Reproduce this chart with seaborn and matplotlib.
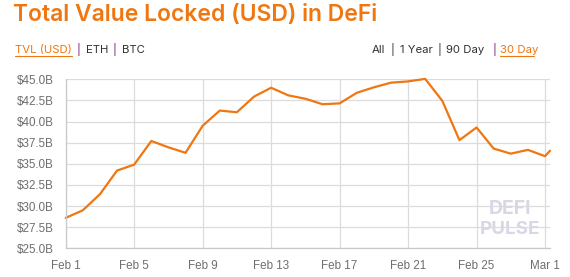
import matplotlib
matplotlib.use("Agg")
import matplotlib.pyplot as plt
import seaborn as sns
import pandas as pd

# ---- data ----
dates = list(pd.date_range("2021-02-01", "2021-03-01", freq="D")) + [pd.Timestamp("2021-03-01 07:00")]
tvl_billion = [28.6, 29.5, 31.4, 34.2, 34.9, 37.7, 36.95, 36.3, 39.5, 41.3,
               41.1, 42.95, 44.0, 43.1, 42.7, 42.05, 42.15, 43.4, 44.05, 44.6,
               44.75, 45.05, 42.45, 37.8, 39.3, 36.8, 36.2, 36.65, 35.9, 36.55]
ytick_vals = [25.0, 27.5, 30.0, 32.5, 35.0, 37.5, 40.0, 42.5, 45.0]
xtick_labels = ["Feb 1", "Feb 5", "Feb 9", "Feb 13", "Feb 17", "Feb 21", "Feb 25", "Mar 1"]
xtick_dates = pd.to_datetime(["2021-02-01", "2021-02-05", "2021-02-09", "2021-02-13",
                              "2021-02-17", "2021-02-21", "2021-02-25", "2021-03-01"])

df = pd.DataFrame({"date": dates, "tvl": tvl_billion})

sns.set_style("white")
plt.rcParams["font.family"] = ["Liberation Sans", "DejaVu Sans"]

ORANGE = "#EF7711"
GRID = "#DCDCDC"
TICKC = "#6E6E6E"
PURPLE = "#7B1F7A"

fig = plt.figure(figsize=(5.70, 2.77), dpi=100)
ax = fig.add_axes([65.7 / 570, 1 - 248.3 / 277, (550 - 65.7) / 570, (248.3 - 79.3) / 277])

sns.lineplot(data=df, x="date", y="tvl", ax=ax, color=ORANGE, linewidth=1.6, clip_on=False)

ax.set_ylim(25, 45)
ax.set_xlim(pd.Timestamp("2021-02-01"), pd.Timestamp("2021-02-01") + pd.Timedelta(days=28.29))
ax.set_yticks(ytick_vals)
ax.set_yticklabels([f"${v:.1f}B" for v in ytick_vals])
ax.set_xticks(xtick_dates)
ax.set_xticklabels(xtick_labels)
ax.set_xlabel("")
ax.set_ylabel("")

ax.grid(True, color=GRID, linewidth=0.9)
ax.set_axisbelow(True)
for side in ["top", "right"]:
    ax.spines[side].set_visible(False)
for side in ["left", "bottom"]:
    ax.spines[side].set_color("#C8C8C8")
    ax.spines[side].set_linewidth(0.9)
ax.tick_params(axis="both", length=7.2, width=0.9, color=GRID, labelcolor=TICKC,
               labelsize=8.4, pad=1.5)

# Title and selectors
fig.text(13 / 570, 1 - 15 / 277, "Total Value Locked (USD) in DeFi", color=ORANGE,
         fontsize=16.5, fontweight="semibold", family=["Inter", "DejaVu Sans"], va="center", ha="left")

def seg(x, text, color, y=50):
    return fig.text(x / 570, 1 - y / 277, text, color=color, fontsize=8.2,
                    family=["Inter", "DejaVu Sans"], va="center", ha="left")

seg(15, "TVL (USD)", ORANGE)
fig.add_artist(plt.Line2D([15 / 570, 72 / 570], [1 - 56 / 277, 1 - 56 / 277], color=ORANGE, linewidth=0.8))
seg(77, "|", PURPLE)
seg(86, "ETH", "#333333")
seg(113, "|", PURPLE)
seg(122, "BTC", "#333333")

seg(372, "All", "#333333")
seg(391, "|", "#333333")
seg(400, "1 Year", "#333333")
seg(437, "|", "#333333")
seg(446, "90 Day", "#333333")
seg(492, "|", PURPLE)
seg(500, "30 Day", ORANGE)
fig.add_artist(plt.Line2D([500 / 570, 534 / 570], [1 - 56 / 277, 1 - 56 / 277], color=ORANGE, linewidth=0.8))

# Watermark
fig.text(510 / 570, 1 - 209 / 277, "DEFI", color="#DAD7E5", fontsize=14, fontweight="bold",
         family=["Inter", "DejaVu Sans"], ha="center", va="center")
fig.text(510 / 570, 1 - 229 / 277, "PULSE", color="#DAD7E5", fontsize=13.5, fontweight="bold",
         family=["Inter", "DejaVu Sans"], ha="center", va="center")

fig.savefig("out.png", dpi=100)
